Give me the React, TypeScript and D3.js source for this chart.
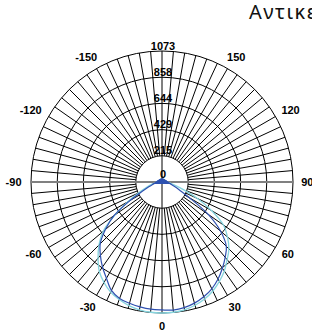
import React, { useEffect, useRef } from "react";
import * as d3 from "d3";

// polar candela chart, angles in degrees (0 = down, 90 = right)
const angles = d3.range(0, 181, 5);
const ringValues = [215, 429, 644, 858, 1073];
const ringLabels = ["0", "215", "429", "644", "858", "1073"];
const angleLabels = [0, 30, 60, 90, 120, 150, -150, -120, -90, -60, -30];

const upper = [40, 36, 33, 30, 28, 27, 26, 25, 25, 24, 24, 24, 24, 24, 24, 24, 24, 24];

const lightRight = [1073, 1071, 1063, 1045, 1020, 985, 940, 890, 830, 775, 700, 614, 470, 320, 190, 120, 75, 55, 45, ...upper];
const lightLeft = [1073, 1071, 1063, 1048, 1025, 995, 950, 895, 815, 730, 630, 470, 320, 210, 140, 100, 70, 52, 45, ...upper];
const darkRight = [1055, 1053, 1045, 1027, 1000, 965, 918, 862, 805, 745, 625, 460, 265, 160, 110, 80, 60, 50, 45, ...upper];
const darkLeft = [1048, 1046, 1038, 1028, 1015, 980, 910, 850, 785, 715, 605, 478, 300, 175, 115, 80, 60, 50, 45, ...upper];

const width = 312;
const height = 333;
const cx = 162;
const cy = 182;
const R = 131;

const App = () => {
  const svgRef = useRef<SVGSVGElement>(null);

  useEffect(() => {
    const svg = d3.select(svgRef.current);
    svg.selectAll("*").remove();

    const r = d3.scaleLinear().domain([0, 1073]).range([0, R]);
    const g = svg.append("g").attr("transform", `translate(${cx},${cy})`);
    const rad = (deg: number) => (deg * Math.PI) / 180;

    // spokes every 5 degrees, from first ring outward
    d3.range(-175, 181, 5).forEach((a) => {
      if (a === 0 || a === 180 || a === 90 || a === -90) return;
      g.append("line")
        .attr("x1", r(215) * Math.sin(rad(a)))
        .attr("y1", r(215) * Math.cos(rad(a)))
        .attr("x2", R * Math.sin(rad(a)))
        .attr("y2", R * Math.cos(rad(a)))
        .attr("stroke", "#000")
        .attr("stroke-width", 1);
    });

    ringValues.forEach((v) => {
      g.append("circle")
        .attr("r", r(v))
        .attr("fill", "none")
        .attr("stroke", "#000")
        .attr("stroke-width", 1);
    });

    g.append("line")
      .attr("x1", -R).attr("x2", R).attr("y1", 0).attr("y2", 0)
      .attr("stroke", "#808080")
      .attr("stroke-width", 2);
    g.append("line")
      .attr("x1", 0).attr("x2", 0).attr("y1", -R).attr("y2", R)
      .attr("stroke", "#000")
      .attr("stroke-width", 1);

    // ring labels along the top
    ringLabels.forEach((lab, i) => {
      const v = i === 0 ? 0 : ringValues[i - 1];
      g.append("text")
        .attr("x", 1)
        .attr("y", -r(v) - (i === 0 ? 4 : 1.5))
        .attr("text-anchor", "middle")
        .style("font-family", "Arial, 'Liberation Sans', sans-serif")
        .style("font-size", "11px")
        .style("font-weight", "bold")
        .text(lab);
    });

    angleLabels.forEach((a) => {
      const txt = String(a);
      const w = txt.length * 6.3;
      const s = Math.sin(rad(a));
      const c = Math.cos(rad(a));
      g.append("text")
        .attr("x", (R + 8) * s + (s * w) / 2)
        .attr("y", (R + 8) * c + c * 5)
        .attr("dy", "0.35em")
        .attr("text-anchor", "middle")
        .style("font-family", "Arial, 'Liberation Sans', sans-serif")
        .style("font-size", "11px")
        .style("font-weight", "bold")
        .text(txt);
    });

    const toPoints = (left: number[], right: number[]) => [
      ...angles.slice().reverse().map((a, i) => [-a, left[angles.length - 1 - i]]),
      ...angles.slice(1).map((a, i) => [a, right[i + 1]]),
    ];

    const line = d3.lineRadial<number[]>()
      .angle((d) => Math.PI - rad(d[0]))
      .radius((d) => r(d[1]))
      .curve(d3.curveCatmullRom);

    const lightPts = toPoints(lightLeft, lightRight);
    const darkPts = toPoints(darkLeft, darkRight);

    g.append("path")
      .datum(lightPts)
      .attr("d", line)
      .attr("fill", "none")
      .attr("stroke", "#86d4de")
      .attr("stroke-width", 1.3);
    g.append("path")
      .datum(darkPts)
      .attr("d", line)
      .attr("fill", "none")
      .attr("stroke", "#2f50b0")
      .attr("stroke-width", 1.2);

    // dense part of the curve near the centre
    const core = darkPts.filter((d) => Math.abs(d[0]) >= 80);
    g.append("path")
      .datum(core)
      .attr("d", line.curve(d3.curveLinearClosed))
      .attr("fill", "#2f52b0")
      .attr("stroke", "#2f52b0")
      .attr("stroke-width", 1.5);

    svg.append("text")
      .attr("x", 249)
      .attr("y", 19)
      .style("font-family", "'Noto Sans', sans-serif")
      .style("font-size", "20px")
      .style("letter-spacing", "1.5px")
      .attr("fill", "#111")
      .text("Αντικείμενο");
  }, []);

  return (
    <svg
      ref={svgRef}
      width={width}
      height={height}
      style={{ position: "absolute", left: 0, top: 0, background: "#fff" }}
    ></svg>
  );
};

export default App;
